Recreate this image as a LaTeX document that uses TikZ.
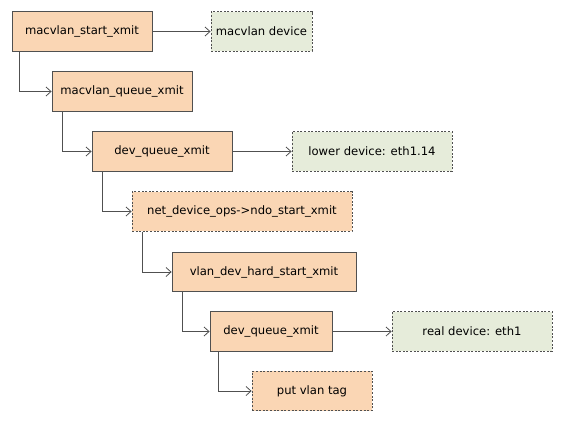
\documentclass[tikz,border=0pt]{standalone}
\usepackage{fontspec}
\setmainfont{DejaVu Sans}
\usepackage{tikz}
\usetikzlibrary{arrows.meta}
\definecolor{callfill}{RGB}{250,214,180}
\definecolor{devfill}{RGB}{230,236,218}
\definecolor{edgegray}{RGB}{80,80,80}

\tikzset{
    callbox/.style={
        draw=edgegray,
        fill=callfill,
        line width=0.8pt,
        minimum height=39.5pt,
        inner sep=0pt,
        font=\fontsize{11.6}{13}\selectfont
    },
    dashbox/.style={
        callbox,
        dash pattern=on 2pt off 1.6pt
    },
    devbox/.style={
        dashbox,
        fill=devfill
    },
    link/.style={
        ->,
        line width=0.8pt,
        edgegray
    }
}

\begin{document}
\begin{tikzpicture}[>={Straight Barb[length=5pt,width=9pt]}, x=1pt, y=-1pt]

    \useasboundingbox (0,0) rectangle (562,421);

    % Funcions
    \node[callbox, minimum width=140pt] (startx) at (82,31.5) {macvlan\_start\_xmit};
    \node[callbox, minimum width=140pt] (queuex) at (122,91.5) {macvlan\_queue\_xmit};
    \node[callbox, minimum width=140pt] (devq) at (162,151.5) {dev\_queue\_xmit};
    \node[dashbox, minimum width=220pt] (ndo) at (242,211.5) {net\_device\_ops->ndo\_start\_xmit};
    \node[callbox, minimum width=184pt] (vlanx) at (264,272) {vlan\_dev\_hard\_start\_xmit};
    \node[callbox, minimum width=122pt] (devqr) at (271,331.5) {dev\_queue\_xmit};
    \node[dashbox, minimum width=120pt] (tag) at (312,391) {put vlan tag};

    % Dispositius
    \node[devbox, minimum width=101pt] (macdev) at (261.5,31.5) {macvlan device};
    \node[devbox, minimum width=160pt] (lowdev) at (372,151.5) {lower device: eth1.14};
    \node[devbox, minimum width=160pt] (realdev) at (472,331.5) {real device: eth1};

    % Crides
    \draw[link] ([xshift=8pt]startx.south west) |- (queuex.west);
    \draw[link] ([xshift=11pt]queuex.south west) |- (devq.west);
    \draw[link] ([xshift=11pt]devq.south west) |- (ndo.west);
    \draw[link] ([xshift=11pt]ndo.south west) |- (vlanx.west);
    \draw[link] ([xshift=11pt]vlanx.south west) |- (devqr.west);
    \draw[link] ([xshift=9pt]devqr.south west) |- (tag.west);

    % Sortides
    \draw[link] (startx) -- (macdev);
    \draw[link] (devq) -- (lowdev);
    \draw[link] (devqr) -- (realdev);

\end{tikzpicture}
\end{document}
